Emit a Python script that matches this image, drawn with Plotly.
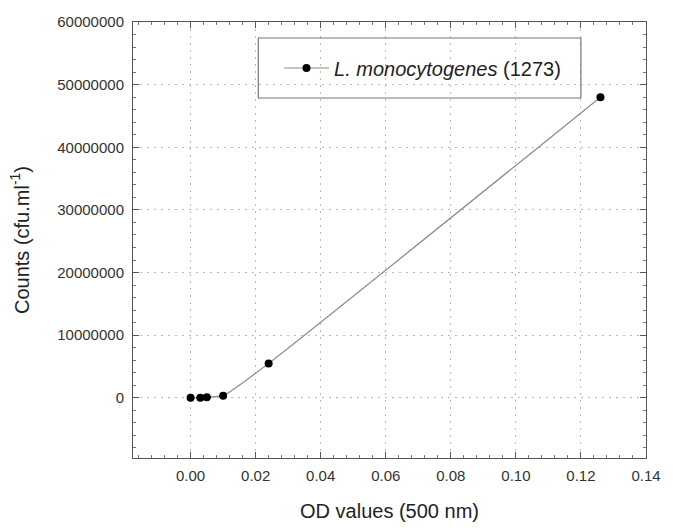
import plotly.graph_objects as go

od_values = [0.0, 0.003, 0.005, 0.010, 0.024, 0.126]
counts = [0, 0, 100000, 350000, 5500000, 48000000]
series_name = "<i>L. monocytogenes</i> (1273)"
x_ticks = [0.00, 0.02, 0.04, 0.06, 0.08, 0.10, 0.12, 0.14]
y_ticks = [0, 10000000, 20000000, 30000000, 40000000, 50000000, 60000000]

fig = go.Figure()
fig.add_trace(go.Scatter(
    x=od_values, y=counts, mode="lines+markers", name=series_name,
    line=dict(color="#8a8a8a", width=1.2, shape="spline", smoothing=0.5),
    marker=dict(color="black", size=8, symbol="circle"),
    showlegend=True,
))

axis_common = dict(
    showline=True, linecolor="#555555", linewidth=1, mirror="ticks",
    ticks="inside", ticklen=6, tickcolor="#555555", tickwidth=1,
    showgrid=True, gridcolor="#b8b8b8", griddash="2px,5px", gridwidth=1,
    zeroline=False,
    tickfont=dict(family="Liberation Sans, Arial", size=15, color="#333333"),
)

fig.update_xaxes(
    range=[-0.0177, 0.14], tickvals=x_ticks, tickformat=".2f",
    ticklabelstandoff=4,
    minor=dict(ticks="inside", ticklen=3, dtick=0.004, tick0=0, tickcolor="#777777", showgrid=False),
    title=dict(text="OD values (500 nm)", font=dict(family="Liberation Sans, Arial", size=20, color="#222222"), standoff=20),
    **axis_common,
)
fig.update_yaxes(
    range=[-9600000, 60000000], tickvals=y_ticks, tickformat="d",
    ticklabelstandoff=5,
    minor=dict(ticks="inside", ticklen=3, dtick=2000000, tick0=0, tickcolor="#777777", showgrid=False),
    title=dict(text="Counts (cfu.ml<sup>-1</sup>)", font=dict(family="Liberation Sans, Arial", size=20, color="#222222"), standoff=22),
    **axis_common,
)

# legend frame
fig.add_shape(type="rect", xref="paper", yref="paper",
              x0=(260 - 133) / 520, x1=(587 - 133) / 520,
              y0=(458 - 98) / 436, y1=(458 - 38) / 436,
              line=dict(color="#777777", width=1.2), fillcolor="rgba(0,0,0,0)")

fig.update_layout(
    width=673, height=531,
    margin=dict(l=133, r=20, t=22, b=73),
    paper_bgcolor="white", plot_bgcolor="white",
    showlegend=True,
    legend=dict(
        x=(281 - 133) / 520, y=(458 - 68) / 436, xanchor="left", yanchor="middle",
        bgcolor="rgba(0,0,0,0)", borderwidth=0, itemwidth=45,
        font=dict(family="Liberation Sans, Arial", size=20, color="#222222"),
    ),
)

fig.write_html("out.html")
